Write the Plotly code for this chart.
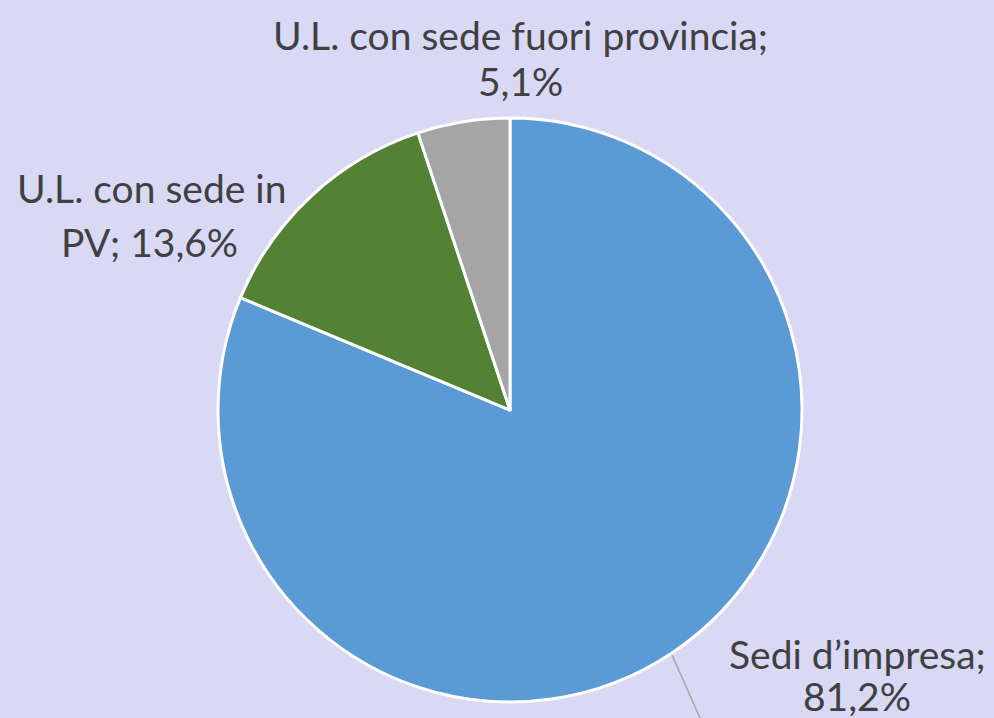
import plotly.graph_objects as go

labels = ["Sedi d’impresa", "U.L. con sede in PV", "U.L. con sede fuori provincia"]
values = [81.2, 13.6, 5.1]
colors = ["#5B9BD5", "#548235", "#A5A5A5"]

label_lines = [
    ["Sedi d’impresa;", "81,2%"],
    ["U.L. con sede in", "PV; 13,6%"],
    ["U.L. con sede fuori provincia;", "5,1%"],
]
# label anchor centres (pixels, top-left origin) for each text line
label_pos = [
    [(857, 654), (857, 696)],
    [(151, 188), (149, 242)],
    [(520, 35), (520, 81)],
]

W, H = 994, 718
BG = "#D9D8F5"

fig = go.Figure(go.Pie(
    labels=labels,
    values=values,
    marker=dict(colors=colors, line=dict(color="white", width=3)),
    sort=False,
    direction="clockwise",
    rotation=0,
    textinfo="none",
    hoverinfo="label+percent",
    showlegend=False,
    domain=dict(x=[(510 - 292) / W, (510 + 292) / W], y=[(H - 702) / H, (H - 118) / H]),
))

annotations = []
for lines, poss in zip(label_lines, label_pos):
    for t, (px, py) in zip(lines, poss):
        annotations.append(dict(
            text=t, x=px / W, y=1 - py / H, xref="paper", yref="paper",
            showarrow=False, xanchor="center", yanchor="middle",
            font=dict(family="Lato", size=39, color="#404040"),
        ))

fig.update_layout(
    width=W, height=H,
    margin=dict(l=0, r=0, t=0, b=0),
    paper_bgcolor=BG, plot_bgcolor=BG,
    annotations=annotations,
    shapes=[dict(type="line", xref="paper", yref="paper",
                 x0=672 / W, y0=1 - 655 / H, x1=700 / W, y1=0,
                 line=dict(color="#A6A6A6", width=1.5))],
)

fig.write_html("out.html", config={"displayModeBar": False})

with open("out.html", "r", encoding="utf-8") as f:
    html = f.read()
html = html.replace("<head>", "<head><style>html,body{margin:0;padding:0;overflow:hidden;background:%s;}</style>" % BG, 1)
with open("out.html", "w", encoding="utf-8") as f:
    f.write(html)
